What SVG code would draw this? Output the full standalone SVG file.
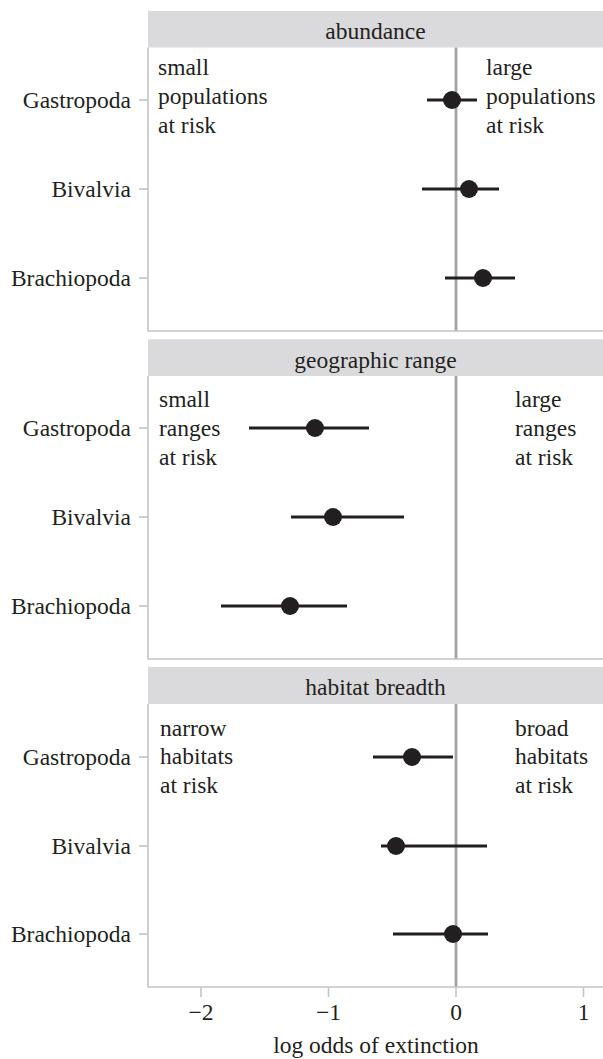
<svg xmlns="http://www.w3.org/2000/svg" width="603" height="1059" viewBox="0 0 603 1059">
<style>
text{font-family:"Liberation Serif","Times New Roman",serif;font-size:23.5px;fill:#231f20}
.strip{fill:#dadadc}
.border{stroke:#c4c4c6;stroke-width:1.6;fill:none}
.zero{stroke:#a3a3a5;stroke-width:2.8}
.tick{stroke:#c4c4c6;stroke-width:1.6}
.ci{stroke:#231f20;stroke-width:3.2}
.pt{fill:#231f20}
.lbl{text-anchor:end}
.mid{text-anchor:middle}
</style>
<rect width="603" height="1059" fill="#fff"/>

<g id="panel-abundance">
<rect class="strip" x="148" y="11" width="455" height="36.5"/>
<text class="mid" x="375.5" y="39">abundance</text>
<line class="zero" x1="456" y1="47.5" x2="456" y2="331"/>
<path class="border" d="M148 47.5V331H603"/>
<line class="tick" x1="139" y1="100" x2="148" y2="100"/>
<line class="tick" x1="139" y1="189" x2="148" y2="189"/>
<line class="tick" x1="139" y1="278" x2="148" y2="278"/>
<text class="lbl" x="131" y="108">Gastropoda</text>
<text class="lbl" x="131" y="197">Bivalvia</text>
<text class="lbl" x="131" y="286">Brachiopoda</text>
<text x="158" y="75">small</text>
<text x="158" y="104">populations</text>
<text x="158" y="133">at risk</text>
<text x="486" y="75">large</text>
<text x="486" y="104">populations</text>
<text x="486" y="133">at risk</text>
<line class="ci" x1="427" y1="100" x2="477" y2="100"/><circle class="pt" cx="452" cy="100" r="9"/>
<line class="ci" x1="422" y1="189" x2="499" y2="189"/><circle class="pt" cx="469" cy="189" r="9"/>
<line class="ci" x1="445" y1="278" x2="515" y2="278"/><circle class="pt" cx="483" cy="278" r="9"/>
</g>

<g id="panel-range">
<rect class="strip" x="148" y="339.3" width="455" height="36.7"/>
<text class="mid" x="375.5" y="368">geographic range</text>
<line class="zero" x1="456" y1="376" x2="456" y2="659"/>
<path class="border" d="M148 376V659H603"/>
<line class="tick" x1="139" y1="428" x2="148" y2="428"/>
<line class="tick" x1="139" y1="517" x2="148" y2="517"/>
<line class="tick" x1="139" y1="606" x2="148" y2="606"/>
<text class="lbl" x="131" y="436">Gastropoda</text>
<text class="lbl" x="131" y="525">Bivalvia</text>
<text class="lbl" x="131" y="614">Brachiopoda</text>
<text x="159" y="407">small</text>
<text x="159" y="436">ranges</text>
<text x="159" y="465">at risk</text>
<text x="515" y="407">large</text>
<text x="515" y="436">ranges</text>
<text x="515" y="465">at risk</text>
<line class="ci" x1="249" y1="428" x2="369" y2="428"/><circle class="pt" cx="315" cy="428" r="9"/>
<line class="ci" x1="291" y1="517" x2="404" y2="517"/><circle class="pt" cx="333" cy="517" r="9"/>
<line class="ci" x1="221" y1="606" x2="347" y2="606"/><circle class="pt" cx="290" cy="606" r="9"/>
</g>

<g id="panel-habitat">
<rect class="strip" x="148" y="667" width="455" height="37"/>
<text class="mid" x="375.5" y="695">habitat breadth</text>
<line class="zero" x1="456" y1="704" x2="456" y2="987"/>
<path class="border" d="M148 704V987H603"/>
<line class="tick" x1="139" y1="757" x2="148" y2="757"/>
<line class="tick" x1="139" y1="846" x2="148" y2="846"/>
<line class="tick" x1="139" y1="934" x2="148" y2="934"/>
<text class="lbl" x="131" y="765">Gastropoda</text>
<text class="lbl" x="131" y="854">Bivalvia</text>
<text class="lbl" x="131" y="942">Brachiopoda</text>
<text x="160" y="736">narrow</text>
<text x="160" y="764">habitats</text>
<text x="160" y="793">at risk</text>
<text x="515" y="736">broad</text>
<text x="515" y="764">habitats</text>
<text x="515" y="793">at risk</text>
<line class="ci" x1="373" y1="757" x2="453" y2="757"/><circle class="pt" cx="412" cy="757" r="9"/>
<line class="ci" x1="381" y1="846" x2="487" y2="846"/><circle class="pt" cx="396" cy="846" r="9"/>
<line class="ci" x1="393" y1="934" x2="488" y2="934"/><circle class="pt" cx="453" cy="934" r="9"/>
</g>

<g id="x-axis">
<line class="tick" x1="201" y1="987" x2="201" y2="997"/>
<line class="tick" x1="328.5" y1="987" x2="328.5" y2="997"/>
<line class="tick" x1="456" y1="987" x2="456" y2="997"/>
<line class="tick" x1="583.5" y1="987" x2="583.5" y2="997"/>
<text class="mid" x="201" y="1020">−2</text>
<text class="mid" x="328.5" y="1020">−1</text>
<text class="mid" x="456" y="1020">0</text>
<text class="mid" x="583.5" y="1020">1</text>
<text class="mid" x="376" y="1053">log odds of extinction</text>
</g>
</svg>
